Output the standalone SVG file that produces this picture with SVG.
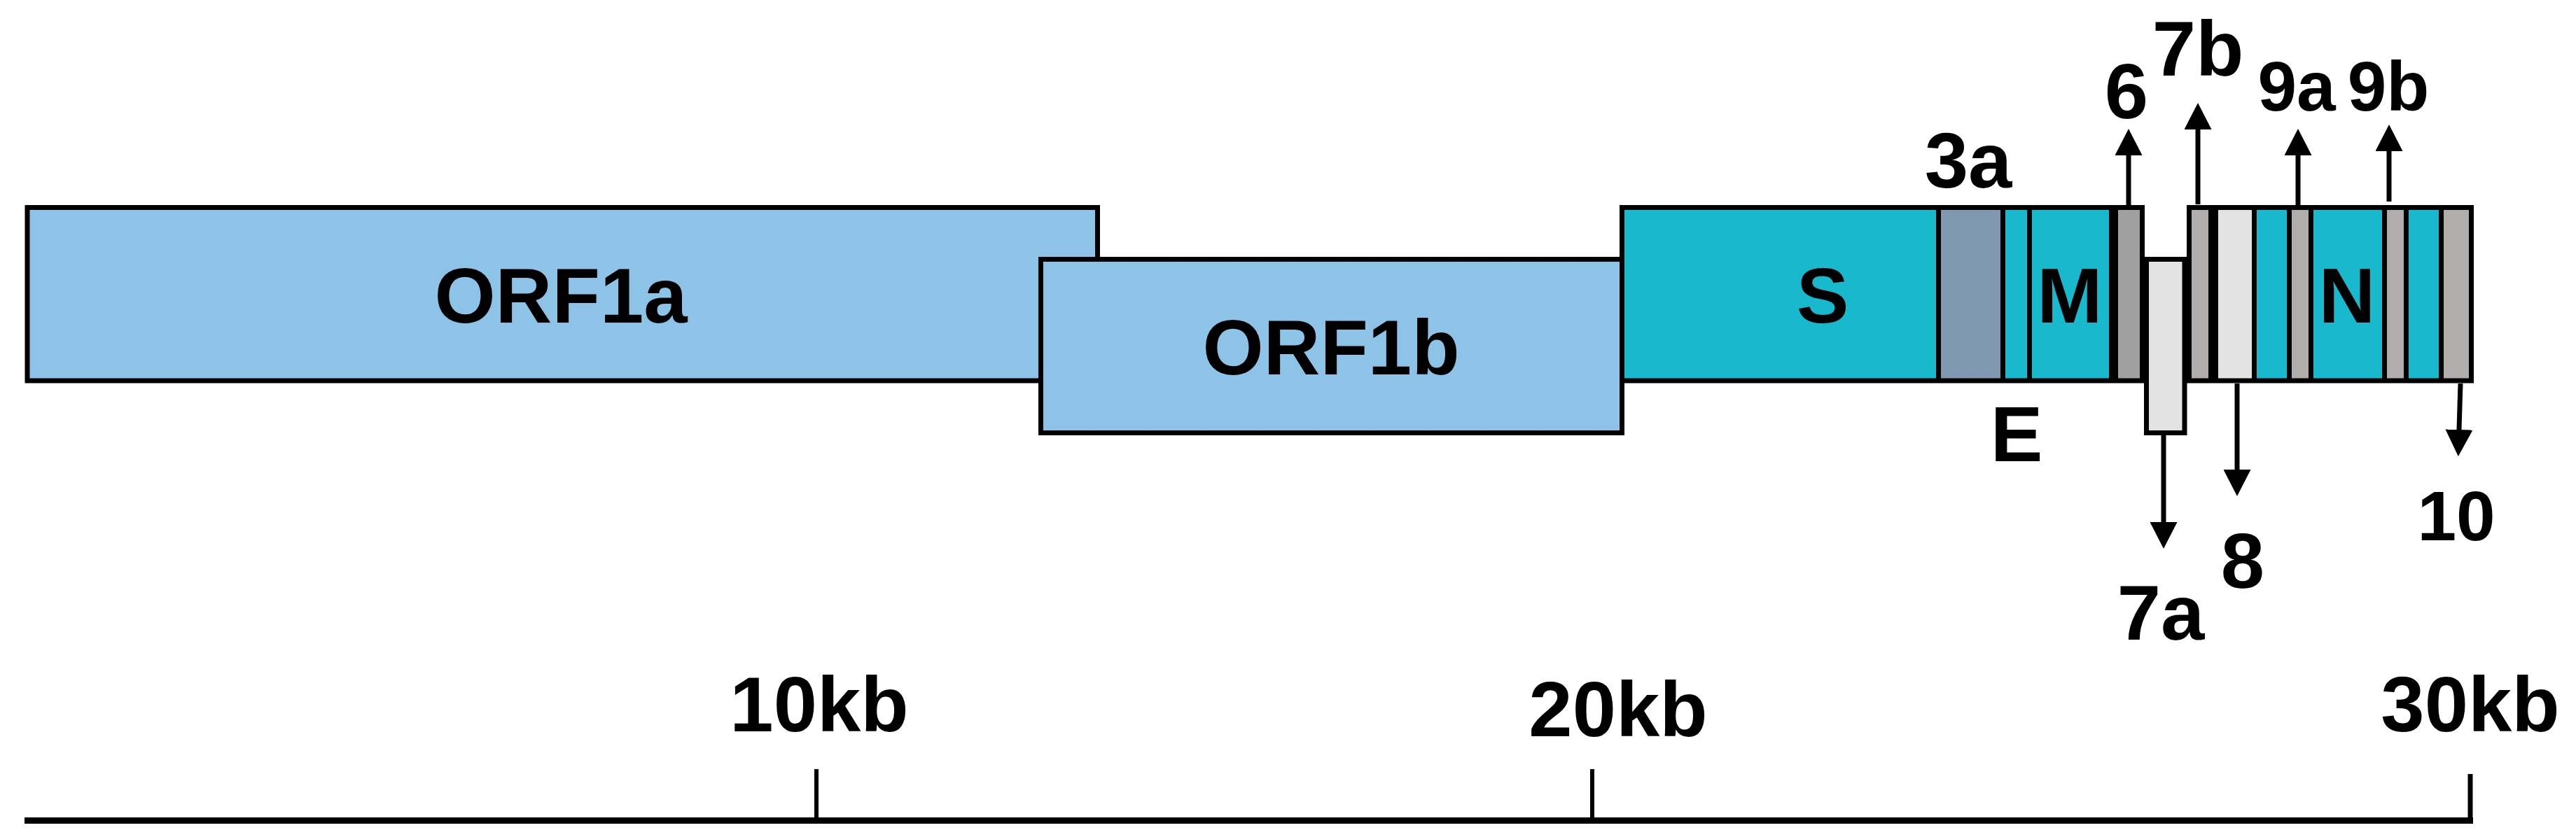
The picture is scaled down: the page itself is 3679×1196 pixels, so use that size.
<svg xmlns="http://www.w3.org/2000/svg" width="3679" height="1196" viewBox="0 0 3679 1196">
<defs>
<style>
.box{stroke:#000;stroke-width:7}
.orf{fill:#8CC3E6}
.teal{fill:#19B9CD}
.slate{fill:#7F98B0}
.g1{fill:#A0A0A0}
.g2{fill:#B0ADAC}
.lg{fill:#E3E3E3}
.div{fill:#000}
.lbl{font-family:"Liberation Sans",Arial,sans-serif;font-weight:bold;font-size:112px;fill:#000;text-anchor:middle}
.sm{font-size:100px}
.arr{stroke:#000;stroke-width:7;fill:none;marker-end:url(#ah)}
.axis{stroke:#000;fill:none}
</style>
<marker id="ah" markerUnits="userSpaceOnUse" markerWidth="38" markerHeight="39" refX="0" refY="19.5" orient="auto" viewBox="0 0 38 39">
<path d="M0,0 L38,19.5 L0,39 Z" fill="#000"/>
</marker>
</defs>
<rect width="3679" height="1196" fill="#fff"/>

<g id="orf1a">
<rect class="box orf" x="39" y="296.5" width="1528.5" height="247.5"/>
<text class="lbl" x="801" y="461">ORF1a</text>
</g>
<g id="orf1b">
<rect class="box orf" x="1486.5" y="370.5" width="830" height="248"/>
<text class="lbl" x="1901" y="535">ORF1b</text>
</g>

<g id="bar-left">
<rect class="teal" x="2316.5" y="296.5" width="743" height="247.5"/>
<rect class="slate" x="2772" y="300" width="85" height="241"/>
<rect class="g1" x="3025" y="300" width="31" height="241"/>
<rect class="div" x="2765" y="300" width="7" height="241"/>
<rect class="div" x="2857" y="300" width="7" height="241"/>
<rect class="div" x="2895" y="300" width="7" height="241"/>
<rect class="div" x="3012" y="300" width="13" height="241"/>
<rect class="box" fill="none" x="2316.5" y="296.5" width="743" height="247.5"/>
</g>
<g id="S"><text class="lbl" x="2603" y="461">S</text></g>
<g id="M"><text class="lbl" x="2956" y="461">M</text></g>

<g id="orf7a">
<rect class="box lg" x="3065.5" y="370.5" width="54.5" height="248"/>
</g>

<g id="bar-right">
<rect class="teal" x="3126.5" y="296.5" width="403" height="247.5"/>
<rect class="g2" x="3130" y="300" width="24" height="241"/>
<rect class="lg" x="3168" y="300" width="48" height="241"/>
<rect class="g2" x="3273" y="300" width="24" height="241"/>
<rect class="g2" x="3409" y="300" width="24" height="241"/>
<rect class="g2" x="3490" y="300" width="36" height="241"/>
<rect class="div" x="3154" y="300" width="14" height="241"/>
<rect class="div" x="3216" y="300" width="7" height="241"/>
<rect class="div" x="3266" y="300" width="7" height="241"/>
<rect class="div" x="3297" y="300" width="7" height="241"/>
<rect class="div" x="3402" y="300" width="7" height="241"/>
<rect class="div" x="3433" y="300" width="7" height="241"/>
<rect class="div" x="3483" y="300" width="7" height="241"/>
<rect class="box" fill="none" x="3126.5" y="296.5" width="403" height="247.5"/>
</g>
<g id="N"><text class="lbl" x="3352" y="461">N</text></g>

<g id="connectors">
<line class="arr" x1="3040" y1="293" x2="3040" y2="222"/>
<line class="arr" x1="3139" y1="292" x2="3139" y2="185"/>
<line class="arr" x1="3282" y1="293" x2="3282" y2="222"/>
<line class="arr" x1="3412" y1="288" x2="3412" y2="216"/>
<line class="arr" x1="3090" y1="622" x2="3090" y2="746"/>
<line class="arr" x1="3195" y1="548" x2="3195" y2="671"/>
<line class="arr" x1="3514" y1="548" x2="3512" y2="614"/>
</g>

<g id="labels">
<text class="lbl" x="2811" y="268">3a</text>
<text class="lbl" x="2880" y="659">E</text>
<text class="lbl" x="3037" y="169">6</text>
<text class="lbl" x="3139" y="108">7b</text>
<text class="lbl sm" x="3280" y="158">9a</text>
<text class="lbl sm" x="3411" y="158">9b</text>
<text class="lbl" x="3086" y="914">7a</text>
<text class="lbl" x="3203" y="840">8</text>
<text class="lbl sm" x="3508" y="772">10</text>
</g>

<g id="scale">
<line class="axis" x1="35" y1="1172.5" x2="3532" y2="1172.5" stroke-width="9"/>
<line class="axis" x1="1166" y1="1099" x2="1166" y2="1170" stroke-width="6"/>
<line class="axis" x1="2274" y1="1099" x2="2274" y2="1170" stroke-width="6"/>
<line class="axis" x1="3528" y1="1106" x2="3528" y2="1170" stroke-width="7"/>
<text class="lbl" x="1170" y="1045">10kb</text>
<text class="lbl" x="2311" y="1052">20kb</text>
<text class="lbl" x="3528" y="1045">30kb</text>
</g>
</svg>
